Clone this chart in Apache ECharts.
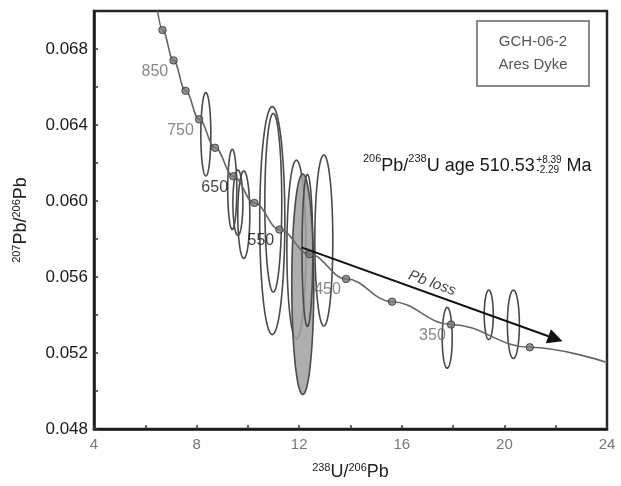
<!DOCTYPE html>
<html>
<head>
<meta charset="utf-8">
<script src="https://cdn.jsdelivr.net/npm/echarts@6/dist/echarts.min.js"></script>
<style>
  html, body { margin: 0; padding: 0; background: #fff; }
  #chart { width: 621px; height: 486px; }
</style>
</head>
<body>
<div id="chart"></div>
<script>
// Tera-Wasserburg concordia: age marks (Ma) with their 238U/206Pb and 207Pb/206Pb
const concordiaAges = [900, 850, 800, 750, 700, 650, 600, 550, 500, 450, 400, 350, 300];
const concordiaU    = [6.67, 7.10, 7.57, 8.10, 8.72, 9.43, 10.25, 11.23, 12.40, 13.83, 15.62, 17.92, 20.99];
const concordiaPb   = [0.0690, 0.0674, 0.0658, 0.0643, 0.0628, 0.0613, 0.0599, 0.0585, 0.0572, 0.0559, 0.0547, 0.0535, 0.0523];
const labelledAges  = [850, 750, 650, 550, 450, 350];
const darkAges      = [650, 550];
// where the concordia trace enters and leaves the frame
const curveStart = [6.48, 0.0700];
const curveEnd   = [24.0, 0.0515];

// zircon analyses: ellipse centres and half-axes
const spotU     = [8.36, 9.39, 9.61, 9.84, 10.95, 10.99, 11.89, 12.14, 12.32, 12.96, 17.77, 19.39, 20.35];
const spotPb    = [0.06351, 0.06061, 0.05991, 0.05928, 0.05897, 0.05991, 0.05745, 0.05562, 0.05740, 0.05792, 0.05280, 0.05401, 0.05351];
const spotErrU  = [0.195, 0.176, 0.195, 0.234, 0.49, 0.33, 0.37, 0.43, 0.21, 0.35, 0.195, 0.176, 0.234];
const spotErrPb = [0.00219, 0.00211, 0.00172, 0.00230, 0.00600, 0.00470, 0.00470, 0.00580, 0.00400, 0.00450, 0.00160, 0.00130, 0.00180];
const shadedSpot = 7;

// Pb-loss trend
const lossFrom = [12.09, 0.05756];
const lossTo   = [21.99, 0.05275];

// labelled ticks
const xTickLabels = [4, 8, 12, 16, 20, 24];
const yTickLabels = ['0.048', '0.052', '0.056', '0.060', '0.064', '0.068'];

const FONT = '"Liberation Sans", Arial, Helvetica, sans-serif';

const curveData = [curveStart].concat(concordiaU.map((u, i) => [u, concordiaPb[i]]), [curveEnd])
  .sort((a, b) => a[0] - b[0]);

const ageData = concordiaAges.map((age, i) => {
  const item = { value: [concordiaU[i], concordiaPb[i], age] };
  if (labelledAges.includes(age)) {
    item.label = {
      show: true,
      formatter: String(age),
      position: 'left',
      distance: 1,
      offset: [0, 11],
      color: darkAges.includes(age) ? '#111' : '#6a6a6a',
      fontSize: 16,
      fontFamily: FONT
    };
  }
  return item;
});

const spotData = spotU.map((u, i) => [u, spotPb[i], spotErrU[i], spotErrPb[i]]);

const chart = echarts.init(document.getElementById('chart'), null, { renderer: 'canvas' });

chart.setOption({
  animation: false,
  backgroundColor: '#fff',
  grid: {
    left: 94, right: 14, top: 11, bottom: 53,
    show: true, borderColor: '#262626', borderWidth: 2.5, backgroundColor: 'transparent'
  },
  xAxis: {
    type: 'value', min: 4, max: 24, interval: 2,
    axisLine: { lineStyle: { color: '#1a1a1a', width: 2.5 } },
    axisTick: { inside: true, length: 4, lineStyle: { color: '#333', width: 1.5 } },
    splitLine: { show: false },
    axisLabel: {
      margin: 8, color: '#777', fontSize: 15, fontFamily: FONT,
      formatter: v => (xTickLabels.includes(Math.round(v)) ? String(Math.round(v)) : '')
    },
    name: '{sup|238}U/{sup|206}Pb',
    nameLocation: 'middle', nameGap: 33,
    nameTextStyle: {
      color: '#222', fontSize: 18, fontFamily: FONT,
      rich: { sup: { fontSize: 11, fontFamily: FONT, color: '#222', verticalAlign: 'top', padding: [0, 0, 9, 0] } }
    }
  },
  yAxis: {
    type: 'value', min: 0.048, max: 0.070, interval: 0.002,
    axisLine: { lineStyle: { color: '#1a1a1a', width: 2.5 } },
    axisTick: { inside: true, length: 4, lineStyle: { color: '#333', width: 1.5 } },
    splitLine: { show: false },
    axisLabel: {
      margin: 6, color: '#1a1a1a', fontSize: 17, fontFamily: FONT,
      formatter: v => {
        const s = v.toFixed(3);
        return yTickLabels.includes(s) ? s : '';
      }
    },
    name: '{sup|207}Pb/{sup|206}Pb',
    nameLocation: 'middle', nameRotate: 90, nameGap: 63,
    nameTextStyle: {
      color: '#222', fontSize: 18, fontFamily: FONT,
      rich: { sup: { fontSize: 11, fontFamily: FONT, color: '#222', verticalAlign: 'top', padding: [0, 0, 9, 0] } }
    }
  },
  series: [
    {
      name: 'analyses',
      type: 'custom',
      coordinateSystem: 'cartesian2d',
      data: spotData,
      encode: { x: 0, y: 1 },
      z: 2,
      renderItem: (params, api) => {
        const cx = api.value(0), cy = api.value(1), rx = api.value(2), ry = api.value(3);
        const pts = [];
        for (let k = 0; k < 96; k++) {
          const a = (k / 96) * Math.PI * 2;
          pts.push(api.coord([cx + rx * Math.cos(a), cy + ry * Math.sin(a)]));
        }
        const shaded = params.dataIndex === shadedSpot;
        return {
          type: 'polygon',
          shape: { points: pts },
          style: {
            fill: shaded ? 'rgba(160,160,160,0.85)' : 'none',
            stroke: '#4a4a4a',
            lineWidth: 1.6
          }
        };
      }
    },
    {
      name: 'concordia',
      type: 'line',
      data: curveData,
      smooth: 0.4,
      smoothMonotone: 'x',
      showSymbol: false,
      symbol: 'none',
      lineStyle: { color: '#666', width: 1.6 },
      z: 3,
      silent: true
    },
    {
      name: 'ages',
      type: 'scatter',
      data: ageData,
      symbol: 'circle',
      symbolSize: 7.5,
      itemStyle: { color: '#777', borderColor: '#333', borderWidth: 1 },
      z: 4
    },
    {
      name: 'Pb loss',
      type: 'lines',
      coordinateSystem: 'cartesian2d',
      data: [{ coords: [lossFrom, lossTo] }],
      symbol: ['none', 'triangle'],
      symbolSize: [11, 15],
      lineStyle: { color: '#111', width: 2, opacity: 1, curveness: 0 },
      label: {
        show: true,
        position: 'middle',
        formatter: 'Pb loss',
        distance: 3,
        fontStyle: 'italic',
        fontSize: 15,
        color: '#444',
        fontFamily: FONT
      },
      z: 5
    }
  ]
});

// sample name box and age annotation
function measure(text, size) {
  const ctx = document.createElement('canvas').getContext('2d');
  ctx.font = size + 'px ' + FONT;
  return ctx.measureText(text).width;
}

const ageLeft = 363, ageBase = 175;
const mainSize = 18, supSize = 11;
const parts = [
  ['206', supSize], ['Pb/', mainSize], ['238', supSize], ['U age 510.53', mainSize]
];
const graphics = [];
let cursor = ageLeft;
parts.forEach(([t, s]) => {
  graphics.push({
    type: 'text', x: cursor, y: s === supSize ? ageBase - 11 : ageBase,
    style: { text: t, fontSize: s, fontFamily: FONT, fill: '#1a1a1a', verticalAlign: 'bottom' }
  });
  cursor += measure(t, s);
});
cursor += 1.5;
graphics.push({
  type: 'text', x: cursor, y: ageBase - 10,
  style: { text: '+8.39', fontSize: 10, fontFamily: FONT, fill: '#1a1a1a', verticalAlign: 'bottom' }
});
graphics.push({
  type: 'text', x: cursor, y: ageBase,
  style: { text: '-2.29', fontSize: 10, fontFamily: FONT, fill: '#1a1a1a', verticalAlign: 'bottom' }
});
cursor += Math.max(measure('+8.39', 10), measure('-2.29', 10)) + 5;
graphics.push({
  type: 'text', x: cursor, y: ageBase,
  style: { text: 'Ma', fontSize: mainSize, fontFamily: FONT, fill: '#1a1a1a', verticalAlign: 'bottom' }
});

graphics.push({
  type: 'rect',
  shape: { x: 477, y: 21, width: 112, height: 65 },
  style: { fill: '#fff', stroke: '#8a8a8a', lineWidth: 2 },
  z: 10
});
graphics.push({
  type: 'text',
  x: 533, y: 53.5,
  style: {
    text: 'GCH-06-2\nAres Dyke', fontSize: 15, lineHeight: 23, fontFamily: FONT,
    fill: '#555', align: 'center', verticalAlign: 'middle'
  },
  z: 11
});

chart.setOption({ graphic: graphics });
</script>
</body>
</html>
